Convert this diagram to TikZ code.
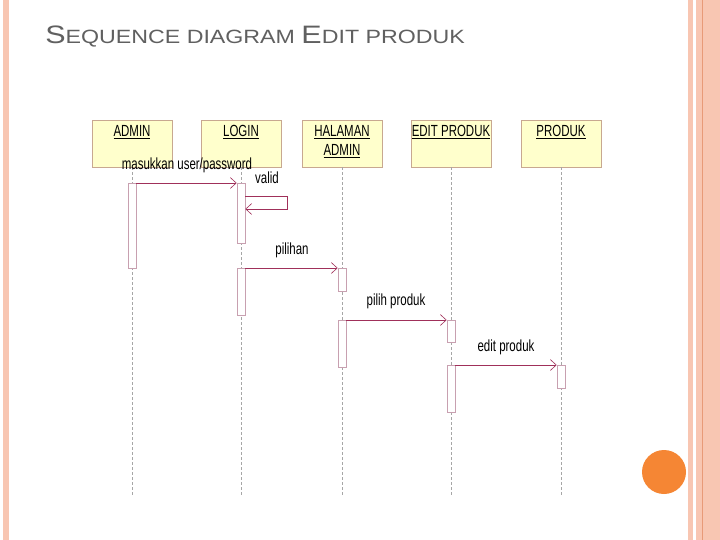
\documentclass[tikz,border=0pt]{standalone}
\usepackage{fontspec}
\setmainfont{Liberation Sans}
\usetikzlibrary{arrows.meta}
\definecolor{salmon}{HTML}{F8C6B2}
\definecolor{dkor}{HTML}{E89A78}
\definecolor{orng}{HTML}{F58634}
\definecolor{hdr}{HTML}{FFFFCC}
\definecolor{hdrb}{HTML}{C8A890}
\definecolor{msg}{HTML}{A0305A}
\definecolor{act}{HTML}{C8A0B0}
\tikzset{
 hbox/.style={draw=hdrb,fill=hdr,minimum width=80pt,minimum height=47pt,anchor=north,inner sep=0pt},
 htxt/.style={anchor=north,inner sep=0pt,align=center,xscale=0.82,yscale=1.15,font=\fontsize{14}{15}\selectfont},
 life/.style={draw=gray!70,dashed,dash pattern=on 3pt off 2pt,line width=0.5pt},
 actb/.style={draw=act,fill=white,line width=0.6pt,minimum width=8pt,inner sep=0pt,anchor=north},
 msga/.style={draw=msg,line width=0.6pt,-{Straight Barb[length=6pt,width=11pt]}},
 lbl/.style={font=\fontsize{14}{14}\selectfont,inner sep=0pt,xscale=0.82,yscale=1.15}
}
\begin{document}
\begin{tikzpicture}[x=1pt,y=-1pt]
\useasboundingbox (0,0) rectangle (720,540);
\fill[white] (0,0) rectangle (720,540);
% borders
\fill[salmon] (3,0) rectangle (9,540);
\fill[salmon] (688,0) rectangle (693,540);
\fill[salmon] (696,0) rectangle (720,540);
\draw[dkor,line width=0.8pt] (702,0) -- (702,540);
\fill[orng] (664,472) circle (22);
% title
\node[anchor=base west,text=gray!75!black,inner sep=0pt,xscale=1.45,yscale=1.2] (title) at (45,44)
 {\fontsize{21}{21}\selectfont S\fontsize{16}{16}\selectfont EQUENCE DIAGRAM \fontsize{21}{21}\selectfont E\fontsize{16}{16}\selectfont DIT PRODUK};
% headers
\node[hbox] (h1) at (132,120) {};
\node[hbox] (h2) at (241,120) {};
\node[hbox] (h3) at (342,120) {};
\node[hbox] (h4) at (451,120) {};
\node[hbox] (h5) at (561,120) {};
\node[htxt] (n1) at (132,125) {\underline{ADMIN}};
\node[htxt] (n2) at (241,125) {\underline{LOGIN}};
\node[htxt] (n3) at (342,125) {\underline{HALAMAN}\\[2pt]\underline{ADMIN}};
\node[htxt] (n4) at (451,125) {\underline{EDIT PRODUK}};
\node[htxt] (n5) at (561,125) {\underline{PRODUK}};
\foreach \i/\x in {1/132,2/241,3/342,4/451,5/561}{
 \coordinate (e\i) at (\x,495);
 \draw[life] (h\i.south) -- (e\i);
}
% activations
\node[actb,minimum height=85pt] (a1) at (132,183) {};
\node[actb,minimum height=60pt] (l1) at (241,183) {};
\node[actb,minimum height=47pt] (l2) at (241,268) {};
\node[actb,minimum height=23pt] (m1) at (342,268) {};
\node[actb,minimum height=47pt] (m2) at (342,320) {};
\node[actb,minimum height=22pt] (d1) at (451,320) {};
\node[actb,minimum height=47pt] (d2) at (451,365) {};
\node[actb,minimum height=23pt] (p1) at (561,365) {};
% messages
\draw[msga] (a1.north east) -- (l1.north west);
\node[lbl] (t1) at (187,165) {masukkan user/password};
\coordinate (v1) at (287,196);
\coordinate (v2) at (287,209);
\draw[msga] (l1.east |- v1) -- (v1) -- (v2) -- (l1.east |- v2);
\node[lbl] (t2) at (267,178) {valid};
\draw[msga] (l2.north east) -- (m1.north west);
\node[lbl] (t3) at (292,250) {pilihan};
\draw[msga] (m2.north east) -- (d1.north west);
\node[lbl] (t4) at (396,301) {pilih produk};
\draw[msga] (d2.north east) -- (p1.north west);
\node[lbl] (t5) at (506,347) {edit produk};
\end{tikzpicture}
\end{document}
